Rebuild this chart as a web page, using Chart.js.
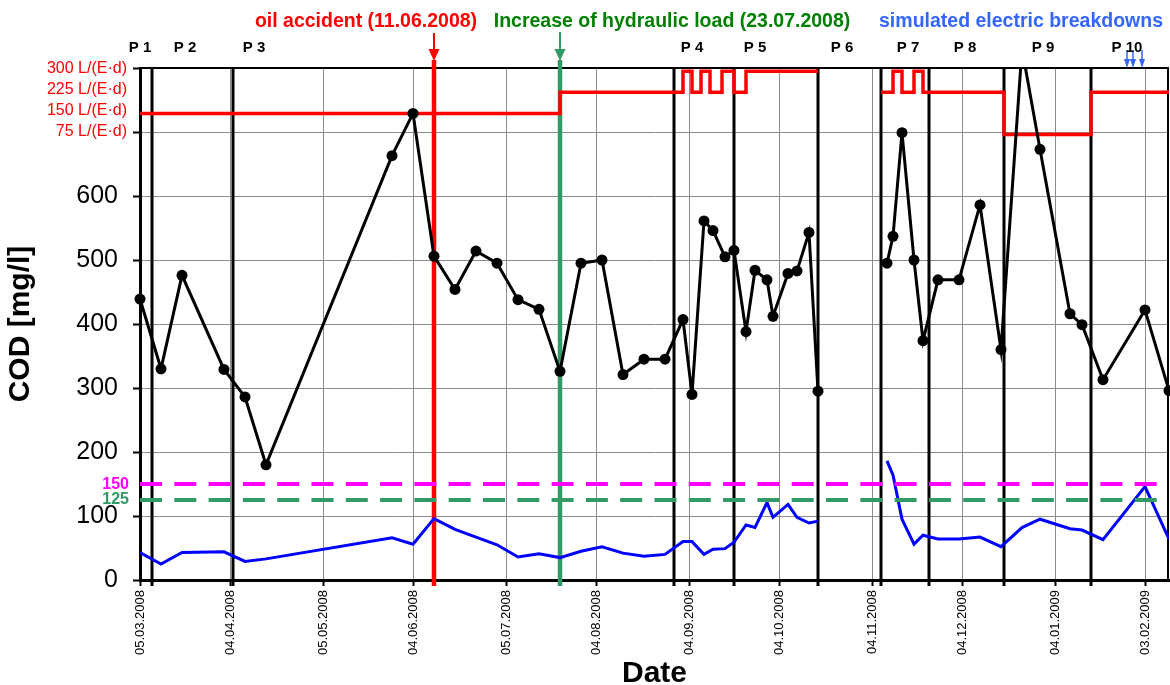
<!DOCTYPE html>
<html>
<head>
<meta charset="utf-8">
<script src="https://cdn.jsdelivr.net/npm/chart.js@4.4.1/dist/chart.umd.min.js"></script>
<style>
  html, body { margin: 0; padding: 0; background: #fff; }
  canvas { display: block; }
</style>
</head>
<body>
<canvas id="chart" width="1170" height="685"></canvas>
<script>
// sampling days (dd.mm.yyyy); 01.11.2008 is only a break in the lines (period 6, no data)
const sampleDates = [
  "05.03.2008", "12.03.2008", "19.03.2008", "02.04.2008", "09.04.2008", "16.04.2008",
  "28.05.2008", "04.06.2008", "11.06.2008", "18.06.2008", "25.06.2008", "02.07.2008",
  "09.07.2008", "16.07.2008", "23.07.2008", "30.07.2008", "06.08.2008", "13.08.2008",
  "20.08.2008", "27.08.2008", "02.09.2008", "05.09.2008", "09.09.2008", "12.09.2008",
  "16.09.2008", "19.09.2008", "23.09.2008", "26.09.2008", "30.09.2008", "02.10.2008",
  "07.10.2008", "10.10.2008", "14.10.2008", "17.10.2008", "01.11.2008",
  "09.11.2008", "11.11.2008", "14.11.2008", "18.11.2008", "21.11.2008", "26.11.2008",
  "03.12.2008", "10.12.2008", "17.12.2008", "24.12.2008", "30.12.2008", "09.01.2009",
  "13.01.2009", "20.01.2009", "03.02.2009", "11.02.2009"
];
// COD inflow [mg/l] (black)
const codInflow = [
  439, 330, 476, 329, 286, 180,
  663, 729, 506, 454, 514, 495,
  438, 423, 326, 495, 500, 321,
  345, 345, 407, 290, 561, 546,
  505, 515, 388, 484, 469, 412,
  479, 483, 543, 295, null,
  495, 537, 699, 500, 374, 469,
  469, 586, 360, 830, 673, 416,
  399, 313, 422, 296
];
// COD effluent [mg/l] (blue)
const codEffluent = [
  43, 25, 43, 44, 29, 33,
  66, 56, 96, 79, 67, 55,
  36, 41, 35, 45, 52, 42,
  37, 40, 60, 60, 40, 48,
  49, 59, 86, 82, 121, 98,
  118, 98, 89, 92, null,
  186, 164, 95, 56, 70, 64,
  64, 67, 52, 82, 95, 80,
  78, 63, 146, 64
];

// hydraulic load L/(E·d): value valid from that date on
const loadDates = [
  "05.03.2008", "23.07.2008", "02.09.2008", "05.09.2008", "08.09.2008", "11.09.2008",
  "15.09.2008", "19.09.2008", "23.09.2008", "17.10.2008", "17.10.2008",
  "07.11.2008", "11.11.2008", "14.11.2008", "18.11.2008", "21.11.2008",
  "18.12.2008", "16.01.2009", "11.02.2009"
];
const loadValues = [
  150, 225, 300, 225, 300, 225,
  300, 225, 300, 300, null,
  225, 300, 225, 300, 225,
  75, 225, 225
];
const loadTicks = [75, 150, 225, 300];

const limitMagenta = 150;
const limitGreen = 125;

const periodBoundaries = [
  "09.03.2008", "05.04.2008", "30.08.2008", "19.09.2008", "17.10.2008",
  "07.11.2008", "23.11.2008", "18.12.2008", "16.01.2009"
];
const periodNames = ["P 1", "P 2", "P 3", "P 4", "P 5", "P 6", "P 7", "P 8", "P 9", "P 10"];
const periodLabelDates = [
  "05.03.2008", "20.03.2008", "12.04.2008", "05.09.2008", "26.09.2008",
  "25.10.2008", "16.11.2008", "05.12.2008", "31.12.2008", "28.01.2009"
];

const oilAccidentDate = "11.06.2008";
const loadIncreaseDate = "23.07.2008";
const breakdownDates = ["28.01.2009", "30.01.2009", "02.02.2009"];

const tickLabels = [
  "05.03.2008", "04.04.2008", "05.05.2008", "04.06.2008", "05.07.2008", "04.08.2008",
  "04.09.2008", "04.10.2008", "04.11.2008", "04.12.2008", "04.01.2009", "03.02.2009"
];
const axisEnd = "11.02.2009";

const FONT = "'Liberation Sans', Arial, sans-serif";
Chart.defaults.font.family = FONT;

// days since 05.03.2008
function dayOf(s) {
  const [d, m, y] = s.split(".").map(Number);
  return Math.round((Date.UTC(y, m - 1, d) - Date.UTC(2008, 2, 5)) / 864e5);
}
const tickDays = tickLabels.map(dayOf);

function downArrow(ctx, x, y0, y1, headW, headL, shaftW, color) {
  ctx.strokeStyle = color;
  ctx.fillStyle = color;
  ctx.lineWidth = shaftW;
  ctx.beginPath();
  ctx.moveTo(x, y0);
  ctx.lineTo(x, y1 - headL + 1);
  ctx.stroke();
  ctx.beginPath();
  ctx.moveTo(x - headW / 2, y1 - headL);
  ctx.lineTo(x + headW / 2, y1 - headL);
  ctx.lineTo(x, y1);
  ctx.closePath();
  ctx.fill();
}

const overlay = {
  id: "overlay",
  beforeDatasetsDraw(chart) {
    const { ctx, chartArea: a, scales: { x } } = chart;
    ctx.save();
    // frame top / right
    ctx.strokeStyle = "#000";
    ctx.lineWidth = 2;
    ctx.beginPath();
    ctx.moveTo(a.left, a.top);
    ctx.lineTo(a.right - 1, a.top);
    ctx.lineTo(a.right - 1, a.bottom);
    ctx.stroke();
    // period boundaries
    ctx.lineWidth = 3;
    periodBoundaries.forEach((d) => {
      const xp = x.getPixelForValue(dayOf(d));
      ctx.beginPath();
      ctx.moveTo(xp, a.top);
      ctx.lineTo(xp, a.bottom + 6);
      ctx.stroke();
    });
    // event lines
    [[oilAccidentDate, "#ff0000"], [loadIncreaseDate, "#339966"]].forEach(([d, c]) => {
      const xp = x.getPixelForValue(dayOf(d));
      ctx.strokeStyle = c;
      ctx.lineWidth = 4.5;
      ctx.beginPath();
      ctx.moveTo(xp, a.top - 8);
      ctx.lineTo(xp, a.bottom + 6);
      ctx.stroke();
    });
    ctx.restore();
  },
  afterDraw(chart) {
    const { ctx, chartArea: a, scales: { x, y, y2 } } = chart;
    ctx.save();

    // event arrows
    downArrow(ctx, x.getPixelForValue(dayOf(oilAccidentDate)), 33, 61, 11, 12, 2, "#ff0000");
    downArrow(ctx, x.getPixelForValue(dayOf(loadIncreaseDate)), 32, 61, 11, 12, 2, "#339966");
    breakdownDates.forEach((d) => {
      downArrow(ctx, x.getPixelForValue(dayOf(d)), 50, a.top, 6, 9, 1.5, "#3366ff");
    });

    // headline texts
    ctx.font = "bold 19.5px " + FONT;
    ctx.textAlign = "center";
    ctx.textBaseline = "alphabetic";
    ctx.fillStyle = "#ff0000";
    ctx.fillText("oil accident (11.06.2008)", 366, 27);
    ctx.fillStyle = "#008000";
    ctx.fillText("Increase of hydraulic load (23.07.2008)", 672, 27);
    ctx.fillStyle = "#3366ff";
    ctx.fillText("simulated electric breakdowns", 1021, 27);

    // period names
    ctx.font = "bold 15px " + FONT;
    ctx.fillStyle = "#000";
    periodNames.forEach((n, i) => {
      ctx.fillText(n, x.getPixelForValue(dayOf(periodLabelDates[i])), 52);
    });

    // hydraulic load axis labels
    ctx.font = "16px " + FONT;
    ctx.textAlign = "right";
    ctx.textBaseline = "middle";
    ctx.fillStyle = "#ff0000";
    loadTicks.forEach((v) => {
      ctx.fillText(v + " L/(E\u00b7d)", 127, y2.getPixelForValue(v) - 3);
    });

    // limit labels
    ctx.font = "bold 16px " + FONT;
    ctx.fillStyle = "#ff00ff";
    ctx.fillText(String(limitMagenta), 129, y.getPixelForValue(limitMagenta) + 0.5);
    ctx.fillStyle = "#339966";
    ctx.fillText(String(limitGreen), 129, y.getPixelForValue(limitGreen));
    ctx.restore();
  }
};

const xEnd = dayOf(axisEnd);
const asPoints = (dates, vals) => dates.map((d, i) => ({ x: dayOf(d), y: vals[i] }));

new Chart(document.getElementById("chart"), {
  type: "line",
  data: {
    datasets: [
      {
        label: "COD inflow",
        data: asPoints(sampleDates, codInflow),
        borderColor: "#000",
        borderWidth: 3,
        pointRadius: 5.5,
        pointBackgroundColor: "#000",
        pointBorderWidth: 0,
        clip: { left: false, right: false, top: 0, bottom: false }
      },
      {
        label: "hydraulic load",
        data: asPoints(loadDates, loadValues),
        yAxisID: "y2",
        borderColor: "#ff0000",
        borderWidth: 3.5,
        pointRadius: 0,
        stepped: true,
        spanGaps: false
      },
      {
        label: "limit 150",
        data: [{ x: 0, y: limitMagenta }, { x: xEnd, y: limitMagenta }],
        borderColor: "#ff00ff",
        borderWidth: 4,
        borderDash: [22, 12.3],
        pointRadius: 0
      },
      {
        label: "limit 125",
        data: [{ x: 0, y: limitGreen }, { x: xEnd, y: limitGreen }],
        borderColor: "#339966",
        borderWidth: 4,
        borderDash: [22, 12.3],
        pointRadius: 0
      },
      {
        label: "COD effluent",
        data: asPoints(sampleDates, codEffluent),
        borderColor: "#0000ff",
        borderWidth: 3,
        pointRadius: 0
      }
    ]
  },
  options: {
    responsive: false,
    animation: false,
    devicePixelRatio: 1,
    layout: { autoPadding: false, padding: { top: 68, right: 1, left: 0, bottom: 0 } },
    plugins: { legend: { display: false }, tooltip: { enabled: false } },
    scales: {
      x: {
        type: "linear",
        min: 0,
        max: xEnd,
        afterBuildTicks: (s) => { s.ticks = tickDays.map((v) => ({ value: v })); },
        afterFit: (s) => {
          s.height = 105;
          s.paddingLeft = 0;
          s.paddingRight = 0;
        },
        ticks: {
          autoSkip: false,
          maxRotation: 90,
          minRotation: 90,
          padding: 4,
          color: "#000",
          font: { size: 13 },
          callback: (v) => {
            const i = tickDays.indexOf(v);
            return i >= 0 ? tickLabels[i] : "";
          }
        },
        grid: { color: "#8c8c8c", lineWidth: 1, tickColor: "#000", tickLength: 6, tickWidth: 2 },
        border: { color: "#000", width: 3 },
        title: {
          display: true,
          text: "Date",
          color: "#000",
          font: { size: 30, weight: "bold", lineHeight: 0.74 },
          padding: 0
        }
      },
      y: {
        min: 0,
        max: 800,
        afterFit: (s) => { s.width = 140; },
        ticks: {
          stepSize: 100,
          padding: 15,
          color: "#000",
          font: { size: 25 },
          callback: (v) => (v <= 600 ? v : "")
        },
        grid: { color: "#8c8c8c", lineWidth: 1, tickColor: "#000", tickLength: 7, tickWidth: 2 },
        border: { color: "#000", width: 3 },
        title: {
          display: true,
          text: "COD [mg/l]",
          color: "#000",
          font: { size: 30, weight: "bold", lineHeight: 1.2 },
          padding: { top: 3, bottom: 0 }
        }
      },
      y2: {
        display: false,
        min: -1511,
        max: 311.7
      }
    }
  },
  plugins: [overlay]
});
</script>
</body>
</html>
